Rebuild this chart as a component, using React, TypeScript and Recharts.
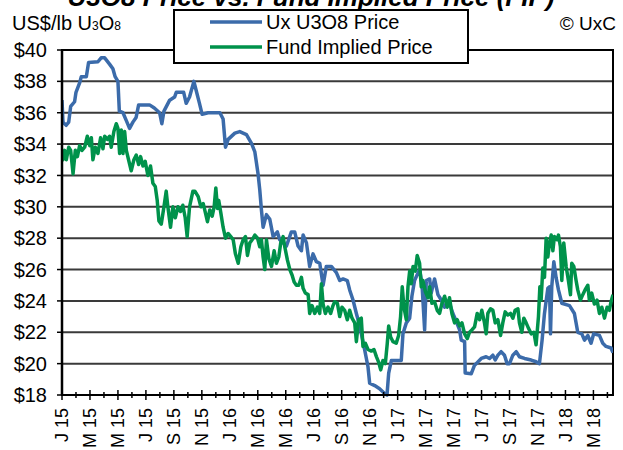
import React from "react";
import { CartesianGrid, Line, LineChart, ReferenceArea, XAxis, YAxis } from "recharts";

// month labels, one every two months starting Jan 2015 (month 0)
const monthLabels = [
  "J 15", "M 15", "M 15", "J 15", "S 15", "N 15",
  "J 16", "M 16", "M 16", "J 16", "S 16", "N 16",
  "J 17", "M 17", "M 17", "J 17", "S 17", "N 17",
  "J 18", "M 18",
];
const priceTicks = [18, 20, 22, 24, 26, 28, 30, 32, 34, 36, 38, 40];

// Ux U3O8 spot price, x = months since Jan 2015
const uxMonths = [
  0, 0.07, 0.3, 0.48, 0.62, 0.9, 1.0, 1.26, 1.38, 1.74, 1.9, 2.57, 2.8, 3.05, 3.4, 3.64, 3.8, 4.0, 4.1, 4.36,
  4.6, 4.83, 5.07, 5.3, 5.48, 6.26, 6.6, 6.98, 7.14, 7.29, 7.7, 8.05, 8.17, 8.7, 8.88, 9.12, 9.43, 9.6, 9.83, 10.02,
  10.45, 11.29, 11.52, 11.69, 11.88, 12.36, 12.71, 13.19, 13.55, 13.79, 14.02, 14.14, 14.26, 14.38, 14.62, 14.86, 15.1, 15.4, 15.57, 16.05,
  16.4, 16.64, 16.88, 17.12, 17.24, 17.48, 17.71, 17.95, 18.19, 18.43, 18.67, 18.9, 19.26, 19.62, 19.86, 20.1, 20.4, 20.57, 20.81, 21.05,
  21.29, 21.64, 21.88, 22.0, 22.36, 22.71, 23.07, 23.24, 23.36, 23.55, 24.26, 24.38, 24.62, 24.86, 25.02, 25.21, 25.57, 25.74, 25.93, 26.05,
  26.29, 26.4, 26.64, 26.88, 27.12, 27.36, 27.71, 27.95, 28.19, 28.43, 28.55, 28.79, 28.83, 29.26, 29.5, 29.62, 29.98, 30.33, 30.57, 30.81,
  30.98, 31.17, 31.4, 31.64, 31.83, 32.0, 32.24, 32.48, 32.71, 33.07, 33.55, 33.9, 34.14, 34.33, 34.5, 34.74, 34.86, 34.93, 35.02, 35.17,
  35.33, 35.5, 35.74, 36.29, 36.64, 36.88, 37.17, 37.36, 37.6, 37.83, 38.02, 38.43, 38.67, 38.9, 39.26, 39.4,
];
const uxPrice = [
  36.8, 35.4, 35.2, 35.4, 36.4, 36.7, 37.3, 37.9, 38.3, 38.3, 39.2, 39.25, 39.5, 39.5, 39.1, 38.8, 38.3, 38.0, 36.1, 36.0,
  35.5, 35.0, 35.4, 35.7, 36.5, 36.5, 36.3, 36.0, 35.3, 36.1, 36.8, 37.0, 37.3, 37.3, 36.6, 37.0, 38.0, 37.4, 36.6, 35.9,
  36.0, 36.0, 35.6, 33.8, 34.3, 34.7, 34.8, 34.6, 34.05, 33.5, 32.1, 31.1, 29.8, 28.7, 29.5, 29.2, 28.1, 28.4, 27.9, 27.5,
  28.4, 28.4, 27.5, 27.2, 28.2, 27.7, 26.2, 27.0, 26.5, 26.4, 25.0, 26.2, 26.2, 25.8, 25.3, 25.4, 25.3, 24.7, 24.06, 23.2,
  22.4, 20.9, 19.8, 18.75, 18.6, 18.4, 18.1, 18.0, 19.4, 20.2, 20.2, 21.9, 22.6, 22.9, 24.3, 25.3, 26.0, 25.1, 22.15, 25.3,
  25.4, 24.5, 25.4, 24.4, 24.06, 23.6, 23.85, 23.2, 22.7, 22.15, 21.5, 21.4, 19.4, 19.35, 19.9, 20.0, 20.33, 20.44, 20.33, 20.54,
  20.23, 20.54, 20.76, 20.54, 20.0, 20.0, 20.54, 20.76, 20.44, 20.33, 20.23, 20.12, 20.0, 21.5, 23.2, 24.8, 24.9, 21.9, 24.9, 26.5,
  25.5, 24.7, 23.85, 23.7, 23.2, 22.0, 21.9, 21.5, 21.8, 21.3, 21.9, 21.8, 21.3, 21.1, 21.0, 20.7,
];

// Fund Implied Price
const fipMonths = [
  0, 0.07, 0.19, 0.31, 0.48, 0.62, 0.79, 0.95, 1.1, 1.26, 1.43, 1.62, 1.81, 1.98, 2.1, 2.21, 2.38, 2.57, 2.76, 2.93,
  3.05, 3.24, 3.4, 3.52, 3.71, 3.88, 4.0, 4.12, 4.24, 4.36, 4.48, 4.6, 4.76, 4.95, 5.14, 5.31, 5.48, 5.62, 5.79, 5.95,
  6.14, 6.33, 6.5, 6.67, 6.81, 6.93, 7.1, 7.29, 7.45, 7.57, 7.76, 7.93, 8.1, 8.29, 8.48, 8.64, 8.81, 8.95, 9.12, 9.36,
  9.5, 9.74, 9.93, 10.1, 10.26, 10.4, 10.57, 10.74, 10.88, 11.0, 11.12, 11.21, 11.36, 11.52, 11.69, 11.88, 12.07, 12.24, 12.4, 12.6,
  12.79, 12.95, 13.12, 13.26, 13.43, 13.6, 13.79, 13.98, 14.14, 14.26, 14.38, 14.5, 14.62, 14.79, 14.98, 15.17, 15.33, 15.5, 15.64, 15.81,
  15.93, 16.12, 16.29, 16.45, 16.6, 16.76, 16.93, 17.12, 17.24, 17.4, 17.6, 17.71, 17.88, 18.07, 18.26, 18.43, 18.55, 18.67, 18.83, 19.02,
  19.21, 19.38, 19.5, 19.69, 19.86, 20.02, 20.21, 20.4, 20.57, 20.74, 20.93, 21.05, 21.21, 21.4, 21.52, 21.69, 21.88, 22.12, 22.31, 22.48,
  22.64, 22.79, 22.95, 23.12, 23.26, 23.36, 23.5, 23.67, 23.9, 24.07, 24.21, 24.33, 24.45, 24.62, 24.74, 24.86, 24.98, 25.1, 25.26, 25.4,
  25.57, 25.69, 25.81, 25.98, 26.17, 26.29, 26.45, 26.64, 26.83, 27.0, 27.17, 27.36, 27.55, 27.71, 27.88, 28.07, 28.26, 28.43, 28.6, 28.79,
  28.98, 29.14, 29.31, 29.5, 29.69, 29.86, 30.02, 30.21, 30.33, 30.45, 30.64, 30.81, 30.98, 31.17, 31.36, 31.52, 31.69, 31.88, 32.07, 32.24,
  32.4, 32.6, 32.71, 32.88, 33.02, 33.19, 33.36, 33.55, 33.74, 33.9, 34.07, 34.17, 34.26, 34.38, 34.5, 34.62, 34.74, 34.86, 34.98, 35.1,
  35.21, 35.38, 35.5, 35.64, 35.74, 35.88, 36.05, 36.21, 36.36, 36.45, 36.6, 36.76, 36.88, 37.07, 37.24, 37.4, 37.6, 37.71, 37.88, 38.07,
  38.26, 38.43, 38.6, 38.79, 38.98, 39.14, 39.26, 39.4,
];
const fipPrice = [
  33.2, 33.0, 33.6, 33.0, 33.8, 33.6, 32.1, 33.6, 33.2, 33.9, 33.6, 33.8, 34.5, 33.9, 34.4, 33.0, 33.8, 33.4, 34.4, 33.7,
  34.5, 34.3, 34.5, 33.8, 34.8, 35.3, 35.0, 33.4, 34.9, 33.4, 34.8, 33.6, 33.0, 32.3, 33.0, 33.3, 32.7, 33.2, 32.6, 32.9,
  32.0, 32.6, 31.5, 31.3, 30.4, 29.1, 28.9, 30.0, 31.0, 30.0, 28.7, 30.0, 29.3, 30.0, 29.7, 30.1, 29.3, 28.1, 30.0, 31.0,
  31.0, 30.65, 30.0, 30.2, 29.6, 29.05, 29.8, 29.4, 30.0, 31.2, 29.9, 30.4, 29.6, 28.7, 28.0, 28.3, 28.1, 27.9, 27.0, 26.4,
  27.45, 27.9, 28.1, 26.9, 27.7, 27.9, 28.2, 28.0, 27.45, 27.9, 26.8, 26.0, 27.9, 26.7, 26.2, 27.2, 26.4, 26.8, 27.7, 28.1,
  27.45, 26.6, 26.0, 25.65, 25.2, 25.0, 25.0, 25.5, 24.8, 24.5, 24.4, 23.2, 23.7, 23.2, 23.6, 23.2, 25.1, 23.8, 23.2, 23.6,
  23.2, 23.7, 23.95, 23.85, 23.0, 23.6, 23.4, 22.8, 23.4, 22.9, 22.6, 21.4, 22.8, 22.9, 21.1, 21.3, 20.9, 20.8, 20.9, 20.45,
  20.1, 19.6, 20.2, 20.0, 21.3, 22.4, 21.7, 21.4, 21.3, 21.8, 23.0, 24.9, 23.6, 22.8, 24.9, 25.9, 25.1, 26.2, 25.9, 26.9,
  26.4, 24.9, 25.3, 24.6, 24.2, 24.9, 23.85, 23.95, 23.4, 23.2, 23.85, 24.3, 23.6, 24.2, 23.2, 22.6, 22.8, 22.4, 22.6, 21.9,
  21.6, 22.0, 22.15, 22.35, 23.2, 22.8, 23.4, 22.6, 21.9, 23.2, 23.5, 23.4, 22.6, 22.8, 21.8, 22.6, 23.3, 23.1, 23.2, 22.9,
  23.4, 23.5, 22.6, 22.0, 22.9, 22.6, 22.25, 21.9, 22.0, 21.2, 23.0, 24.9, 24.05, 26.1, 25.5, 28.0, 26.8, 27.7, 28.2, 27.2,
  28.1, 27.9, 28.2, 27.45, 25.3, 27.7, 26.2, 25.3, 24.4, 26.4, 26.2, 25.3, 24.7, 24.05, 24.4, 24.7, 25.0, 24.05, 24.5, 23.8,
  24.05, 23.2, 23.6, 22.9, 23.6, 23.4, 23.95, 24.4,
];

const uxData = uxMonths.map((m, i) => ({ m, ux: uxPrice[i] }));
const fipData = fipMonths.map((m, i) => ({ m, fip: fipPrice[i] }));
const monthTicks = Array.from({ length: 40 }, (_, i) => i);

const FONT = "'Liberation Sans', Arial, sans-serif";
const BLUE = "#3B6BAA";
const GREEN = "#00924B";

function MonthTick(props: any) {
  const { x, y, payload } = props;
  const m = payload.value as number;
  const major = m % 2 === 0;
  const ty = y + 13;
  return (
    <g>
      <line x1={x} x2={x} y1={y - (major ? 5 : 3)} y2={y + (major ? 5 : 3)} stroke="#000" strokeWidth={1.5} />
      {major && (
        <text
          x={x}
          y={ty}
          transform={`rotate(-90, ${x}, ${ty})`}
          textAnchor="end"
          dy="0.35em"
          fontSize={18}
          fontFamily={FONT}
          fill="#000"
        >
          {monthLabels[m / 2]}
        </text>
      )}
    </g>
  );
}

export default function App() {
  return (
    <div style={{ position: "absolute", left: 0, top: 0, width: 623, height: 450, background: "#fff" }}>
      <LineChart width={623} height={450} margin={{ top: 50, right: 10, bottom: 0, left: 0 }}>
        <CartesianGrid vertical={false} stroke="#3a3a3a" strokeWidth={2} />
        <XAxis
          type="number"
          dataKey="m"
          domain={[0, 39.4]}
          allowDataOverflow
          ticks={monthTicks}
          interval={0}
          height={55}
          tickSize={0}
          tickMargin={0}
          tickLine={false}
          tick={<MonthTick />}
          axisLine={{ stroke: "#000", strokeWidth: 2 }}
        />
        <YAxis
          type="number"
          domain={[18, 40]}
          ticks={priceTicks}
          interval={0}
          width={62}
          tickSize={5}
          tickMargin={10}
          tickFormatter={(v: number) => `$${v}`}
          tick={{ fontSize: 20, fontFamily: FONT, fill: "#000" }}
          tickLine={{ stroke: "#000", strokeWidth: 1.5 }}
          axisLine={{ stroke: "#000", strokeWidth: 2.5 }}
        />
        <ReferenceArea x1={0} x2={39.4} y1={18} y2={40} fill="none" stroke="#000" strokeWidth={2} ifOverflow="visible" />
        <Line data={uxData} dataKey="ux" stroke={BLUE} strokeWidth={3.5} dot={false} isAnimationActive={false} strokeLinejoin="round" />
        <Line data={fipData} dataKey="fip" stroke={GREEN} strokeWidth={3.5} dot={false} isAnimationActive={false} strokeLinejoin="round" />
      </LineChart>
      <svg width={623} height={450} style={{ position: "absolute", left: 0, top: 0, pointerEvents: "none" }} fontFamily={FONT}>
        <text x={311} y={6} textAnchor="middle" fontSize={26} fontWeight="bold" fontStyle="italic" fill="#000">
          U3O8 Price vs. Fund Implied Price (FIP)
        </text>
        <text x={12} y={30} fontSize={20} fill="#000">
          US$/lb U<tspan fontSize={12}>3</tspan>O<tspan fontSize={12}>8</tspan>
        </text>
        <text x={616} y={30} textAnchor="end" fontSize={19} fill="#000">
          © UxC
        </text>
        <rect x={174} y={10} width={294} height={53} fill="#fff" stroke="#000" strokeWidth={2} />
        <line x1={210} x2={262} y1={22} y2={22} stroke={BLUE} strokeWidth={3.5} />
        <text x={266} y={22} dy="0.35em" fontSize={20} fill="#000">Ux U3O8 Price</text>
        <line x1={210} x2={262} y1={47} y2={47} stroke={GREEN} strokeWidth={3.5} />
        <text x={266} y={47} dy="0.35em" fontSize={20} fill="#000">Fund Implied Price</text>
      </svg>
    </div>
  );
}
